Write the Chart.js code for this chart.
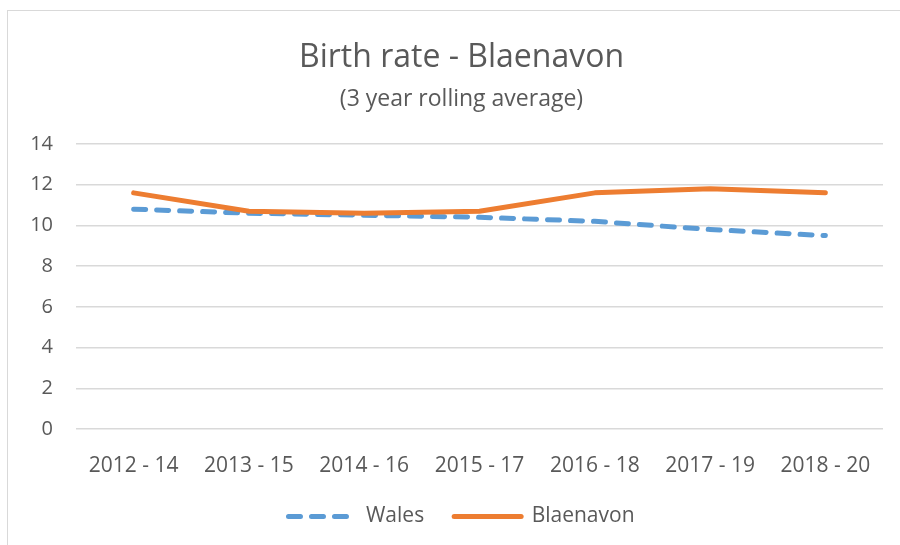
<!DOCTYPE html>
<html>
<head>
<meta charset="utf-8">
<script src="https://cdn.jsdelivr.net/npm/chart.js@4.4.1/dist/chart.umd.min.js"></script>
<style>
  html, body { margin: 0; padding: 0; background: #fff; overflow: hidden; }
  #frame { position: absolute; left: 7px; top: 10px; width: 920px; height: 560px; border: 1px solid #d9d9d9; }
  #wrap { position: absolute; left: 0; top: 0; width: 900px; height: 545px; }
</style>
</head>
<body>
<div id="frame"></div>
<div id="wrap"><canvas id="chart"></canvas></div>
<script>
// Birth rate chart data
const periods = ['2012 - 14', '2013 - 15', '2014 - 16', '2015 - 17', '2016 - 18', '2017 - 19', '2018 - 20'];
const wales = [10.8, 10.6, 10.5, 10.4, 10.2, 9.8, 9.5];
const blaenavon = [11.6, 10.7, 10.6, 10.7, 11.6, 11.8, 11.6];
const yTicks = [0, 2, 4, 6, 8, 10, 12, 14];

const textColor = '#595959';
const fontFamily = "'Open Sans', 'Noto Sans', sans-serif";

Chart.defaults.font.family = fontFamily;
Chart.defaults.color = textColor;

new Chart(document.getElementById('chart'), {
  type: 'line',
  data: {
    labels: periods,
    datasets: [
      {
        label: 'Wales',
        data: wales,
        borderColor: '#5b9bd5',
        backgroundColor: '#5b9bd5',
        borderWidth: 5,
        borderDash: [12, 11],
        borderCapStyle: 'round',
        borderJoinStyle: 'round',
        pointRadius: 0,
        pointStyle: 'line',
        tension: 0,
        order: 1
      },
      {
        label: 'Blaenavon',
        data: blaenavon,
        borderColor: '#ed7d31',
        backgroundColor: '#ed7d31',
        borderWidth: 5,
        borderCapStyle: 'round',
        borderJoinStyle: 'round',
        pointRadius: 0,
        pointStyle: 'line',
        tension: 0,
        order: 0
      }
    ]
  },
  options: {
    responsive: true,
    maintainAspectRatio: false,
    animation: false,
    // left padding centres title/legend like the original frame; y axis width makes up the rest
    layout: { padding: { left: 40, right: 17, top: 0, bottom: 8 } },
    plugins: {
      title: {
        display: true,
        text: 'Birth rate - Blaenavon',
        color: textColor,
        font: { size: 32, weight: 'normal' },
        padding: { top: 39, bottom: 4 }
      },
      subtitle: {
        display: true,
        text: '(3 year rolling average)',
        color: textColor,
        font: { size: 23, weight: 'normal' },
        padding: { top: 4, bottom: 31 }
      },
      legend: {
        position: 'bottom',
        labels: {
          sort: (a, b) => a.datasetIndex - b.datasetIndex,
          // point-style legend items don't pick up the dataset dash, so copy it over
          generateLabels: (chart) => Chart.defaults.plugins.legend.labels.generateLabels(chart).map(item => {
            const ds = chart.data.datasets[item.datasetIndex];
            item.lineDash = ds.borderDash || [];
            item.lineCap = 'round';
            item.lineWidth = ds.borderWidth;
            return item;
          }),
          usePointStyle: true,
          pointStyleWidth: 67,
          boxHeight: 21,
          padding: 30,
          color: textColor,
          font: { size: 21 }
        }
      },
      tooltip: { enabled: false }
    },
    scales: {
      x: {
        offset: true,
        afterFit: (s) => { s.height = 47; },
        grid: { display: false, offset: true },
        border: { display: false },
        ticks: { padding: 16, color: textColor, font: { size: 21 }, maxRotation: 0 }
      },
      y: {
        min: 0,
        max: 14,
        afterBuildTicks: (s) => { s.ticks = yTicks.map(v => ({ value: v })); },
        afterFit: (s) => {
          s.width = 36;
          // labels sit left of the padded box, so don't clip them to it
          s._computeLabelArea = () => null;
        },
        grid: { color: '#d9d9d9', lineWidth: 1.5, drawTicks: false },
        border: { display: false },
        ticks: { padding: 23, color: textColor, font: { size: 20 } }
      }
    }
  }
});
</script>
</body>
</html>
